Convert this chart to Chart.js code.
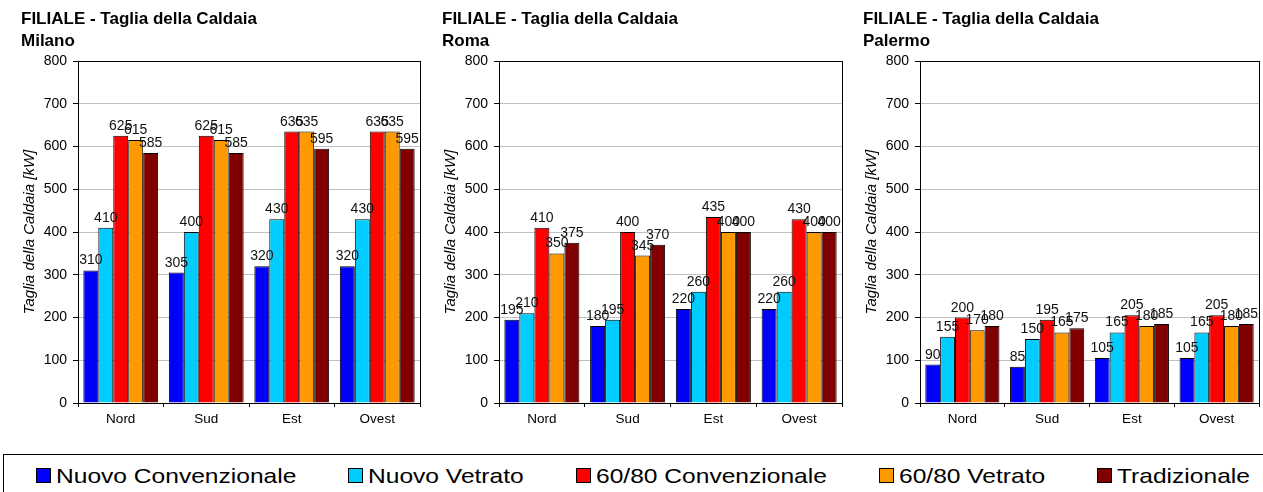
<!DOCTYPE html>
<html>
<head>
<meta charset="utf-8">
<script src="https://cdn.jsdelivr.net/npm/chart.js@4"></script>
<style>
body{margin:0;background:#fff;width:1263px;height:492px;overflow:hidden;position:relative;font-family:Arial,"Liberation Sans",sans-serif;}
.panel{position:absolute;top:0;}
#legendBox{position:absolute;left:3px;top:454px;width:1300px;height:60px;border:1px solid #000;}
.sw{position:absolute;top:468px;width:15px;height:15px;box-sizing:border-box;border:1px solid #000;}
.lt{position:absolute;top:465px;font-size:21px;line-height:21px;color:#000;white-space:nowrap;transform:scaleX(1.17);transform-origin:left center;}
</style>
</head>
<body>

<div class="panel" style="left:0px"><canvas id="milano" width="424" height="440"></canvas></div>
<div class="panel" style="left:421px"><canvas id="roma" width="425" height="440"></canvas></div>
<div class="panel" style="left:842px"><canvas id="palermo" width="421" height="440"></canvas></div>

<div id="legendBox"></div>
<div id="legend"></div>

<script>

// categorie e serie
const categories = ["Nord","Sud","Est","Ovest"];

const seriesNames = ["Nuovo Convenzionale","Nuovo Vetrato","60/80 Convenzionale","60/80 Vetrato","Tradizionale"];

const seriesColors = ["#0000ff","#00ccff","#ff0000","#ff9900","#800000"];

// Milano
const milanoNuovoConv = [310,305,320,320];
const milanoNuovoVetr = [410,400,430,430];
const milano6080Conv = [625,625,635,635];
const milano6080Vetr = [615,615,635,635];
const milanoTrad = [585,585,595,595];

// Roma
const romaNuovoConv = [195,180,220,220];
const romaNuovoVetr = [210,195,260,260];
const roma6080Conv = [410,400,435,430];
const roma6080Vetr = [350,345,400,400];
const romaTrad = [375,370,400,400];

// Palermo
const palermoNuovoConv = [90,85,105,105];
const palermoNuovoVetr = [155,150,165,165];
const palermo6080Conv = [200,195,205,205];
const palermo6080Vetr = [170,165,180,180];
const palermoTrad = [180,175,185,185];

const yTicks = [0,100,200,300,400,500,600,700,800];

const titleText = "FILIALE - Taglia della Caldaia";
const yTitle = "Taglia della Caldaia [kW]";


Chart.defaults.font.family = 'Arial, "Liberation Sans", sans-serif';
Chart.defaults.color = "#000";


// cornice dell'area del grafico
const frame = {
id:"frame",
afterDraw(chart){
const a = chart.chartArea;
const ctx = chart.ctx;
ctx.save();
ctx.strokeStyle = "#000";
ctx.lineWidth = 1;
ctx.strokeRect(Math.round(a.left)+0.5, Math.round(a.top)+0.5, Math.round(a.right-a.left), Math.round(a.bottom-a.top));
ctx.restore();
}
};

// etichette con i valori sopra le barre
const valueLabels = {
id:"valueLabels",
afterDatasetsDraw(chart){
const ctx = chart.ctx;
ctx.save();
ctx.font = '14px Arial, "Liberation Sans", sans-serif';
ctx.fillStyle = "#111";
ctx.textAlign = "center";
ctx.textBaseline = "alphabetic";
chart.data.datasets.forEach((ds,i)=>{
const meta = chart.getDatasetMeta(i);
meta.data.forEach((bar,j)=>{
ctx.fillText(String(ds.data[j]), bar.x, bar.y - 6);
});
});
ctx.restore();
}
};


function makeChart(id, city, values, padRight){

new Chart(document.getElementById(id),{

type:"bar",

data:{
labels:categories,
datasets:values.map((v,i)=>({
label:seriesNames[i],
data:v,
backgroundColor:seriesColors[i],
borderColor:"#000",
borderWidth:1,
categoryPercentage:0.875,
barPercentage:1
}))
},

options:{
responsive:false,
animation:false,
devicePixelRatio:1,
layout:{padding:{left:21,right:padRight,top:0,bottom:7}},
plugins:{
legend:{display:false},
tooltip:{enabled:false},
title:{
display:true,
align:"start",
text:[titleText, city],
font:{size:17,weight:"bold",lineHeight:"22px"},
color:"#000",
padding:{top:8,bottom:9}
}
},
scales:{
x:{
grid:{drawOnChartArea:false,offset:true,tickLength:4,tickColor:"#000"},
border:{color:"#000",width:1},
ticks:{font:{size:13.5},color:"#000",padding:4,maxRotation:0},
afterFit(scale){ scale.height = 30; }
},
y:{
min:0,
max:800,
afterBuildTicks(scale){ scale.ticks = yTicks.map(v=>({value:v})); },
grid:{color:"#c0c0c0",tickLength:5,tickColor:"#000"},
border:{color:"#000",width:1},
ticks:{font:{size:14},color:"#000",padding:6},
title:{display:true,text:yTitle,font:{size:15,style:"italic",lineHeight:"18px"},color:"#000",padding:{top:0,bottom:0}},
afterFit(scale){ scale.width = 57; }
}
}
},

plugins:[frame,valueLabels]

});

}


makeChart("milano","Milano",[milanoNuovoConv,milanoNuovoVetr,milano6080Conv,milano6080Vetr,milanoTrad],4);

makeChart("roma","Roma",[romaNuovoConv,romaNuovoVetr,roma6080Conv,roma6080Vetr,romaTrad],4);

makeChart("palermo","Palermo",[palermoNuovoConv,palermoNuovoVetr,palermo6080Conv,palermo6080Vetr,palermoTrad],4);


// legenda
const legendLeft = [36,348,576,879,1097];

const legend = document.getElementById("legend");

seriesNames.forEach((name,i)=>{

let sw = document.createElement("div");
sw.className = "sw";
sw.style.left = legendLeft[i]+"px";
sw.style.background = seriesColors[i];
legend.appendChild(sw);

let t = document.createElement("div");
t.className = "lt";
t.style.left = (legendLeft[i]+20)+"px";
t.textContent = name;
legend.appendChild(t);

});

</script>
</body>
</html>
